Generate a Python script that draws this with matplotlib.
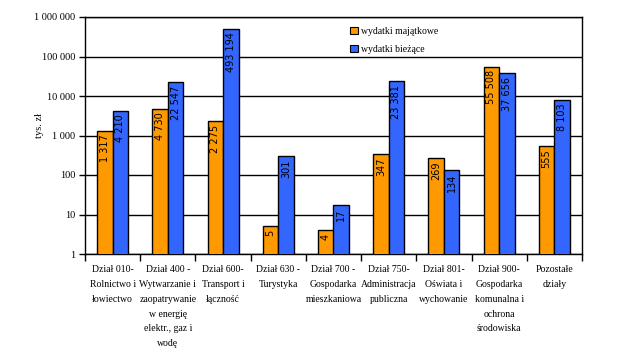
import matplotlib
matplotlib.use("Agg")
import matplotlib.pyplot as plt
import numpy as np
from matplotlib.patches import Patch

categories = [
    "Dział 010-\nRolnictwo i\nłowiectwo",
    "Dział 400 -\nWytwarzanie i\nzaopatrywanie\nw energię\nelektr., gaz i\nwodę",
    "Dział 600-\nTransport i\nłączność",
    "Dział 630 -\nTurystyka",
    "Dział 700 -\nGospodarka\nmieszkaniowa",
    "Dział 750-\nAdministracja\npubliczna",
    "Dział 801-\nOświata i\nwychowanie",
    "Dział 900-\nGospodarka\nkomunalna i\nochrona\nśrodowiska",
    "Pozostałe\ndziały",
]
majatkowe = [1317, 4730, 2275, 5, 4, 347, 269, 55508, 555]
biezace = [4210, 22547, 493194, 301, 17, 23381, 134, 37656, 8103]
series_names = ["wydatki majątkowe", "wydatki bieżące"]
ytick_vals = [1, 10, 100, 1000, 10000, 100000, 1000000]
ytick_labels = ["1", "10", "100", "1 000", "10 000", "100 000", "1 000 000"]
ylabel = "tys. zł"

orange = "#FF9900"
blue = "#3366FF"

def fmt(v):
    return f"{v:,}".replace(",", " ")

fig = plt.figure(figsize=(6.19, 3.55), dpi=100)
ax = fig.add_axes([85/619, 1-254/355, (582-85)/619, (254-17)/355])

serif = "Liberation Serif"
sans = "DejaVu Sans"

x = np.arange(len(categories))
w = 0.28
b1 = ax.bar(x - w/2, majatkowe, w, color=orange, edgecolor="black", linewidth=1, zorder=3)
b2 = ax.bar(x + w/2, biezace, w, color=blue, edgecolor="black", linewidth=1, zorder=3)

ax.set_yscale("log")
ax.set_ylim(1, 1e6)
ax.set_xlim(-0.5, len(categories) - 0.5)
ax.set_yticks(ytick_vals)
ax.set_yticklabels(ytick_labels, fontfamily=serif, fontsize=7.5)
ax.yaxis.set_minor_locator(matplotlib.ticker.NullLocator())
ax.yaxis.grid(True, color="black", linewidth=1, zorder=0)
ax.set_axisbelow(True)
ax.tick_params(axis="y", length=4, width=1, direction="out", pad=3)

ax.set_xticks(np.arange(len(categories) + 1) - 0.5)
ax.set_xticklabels([])
ax.tick_params(axis="x", length=5, width=1, direction="out")
for i, c in enumerate(categories):
    ax.text(i, -0.045, c, transform=ax.get_xaxis_transform(), ha="center", va="top",
            fontfamily=serif, fontsize=7, linespacing=1.85)

for s in ax.spines.values():
    s.set_linewidth(1)
    s.set_color("black")

fig.text(40/619, 1 - 125/355, ylabel, rotation=90, ha="center", va="center",
         fontfamily=serif, fontsize=7.5)

for bars, vals in ((b1, majatkowe), (b2, biezace)):
    for r, v in zip(bars, vals):
        ax.annotate(fmt(v), (r.get_x() + r.get_width()/2, v), xytext=(0, -2.5),
                    textcoords="offset points", rotation=90, ha="center", va="top",
                    fontfamily=sans, fontsize=7, zorder=4)

handles = [Patch(facecolor=orange, edgecolor="black", linewidth=0.8),
           Patch(facecolor=blue, edgecolor="black", linewidth=0.8)]
leg = ax.legend(handles, series_names, loc="upper left", bbox_to_anchor=((346-85)/497, 1 - 6/237),
                frameon=False, prop={"family": serif, "size": 7}, handlelength=0.8, handleheight=0.8,
                handletextpad=0.3, labelspacing=0.9, borderaxespad=0)

fig.savefig("out.png", dpi=100)
